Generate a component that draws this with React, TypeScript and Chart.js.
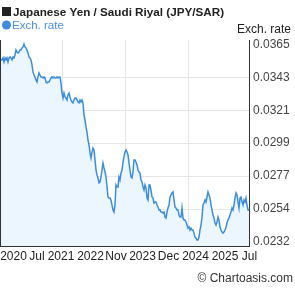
import { useEffect, useRef } from 'react';
import { Chart, registerables } from 'chart.js';

Chart.register(...registerables);

const TITLE = 'Japanese Yen / Saudi Riyal (JPY/SAR)';
const SERIES_NAME = 'Exch. rate';
const AXIS_TITLE = 'Exch. rate';
const CREDIT = '© Chartoasis.com';

// JPY/SAR exchange rate, sampled evenly from mid-2020 to mid-2025
const rates = [
  0.03549, 0.03549, 0.03562, 0.03535, 0.03562, 0.03549, 0.03562, 0.03535, 0.03562, 0.03569,
  0.03562, 0.03549, 0.03569, 0.03562, 0.03582, 0.03616, 0.03602, 0.03596, 0.03602, 0.03616,
  0.03616, 0.03629, 0.03636, 0.03656, 0.03636, 0.03629, 0.03616, 0.03596, 0.03569, 0.03562,
  0.03549, 0.03515, 0.03468, 0.03447, 0.03434, 0.03414, 0.03400, 0.03434, 0.03461, 0.03447,
  0.03434, 0.03434, 0.03427, 0.03434, 0.03427, 0.03400, 0.03394, 0.03400, 0.03400, 0.03414,
  0.03427, 0.03434, 0.03427, 0.03434, 0.03427, 0.03427, 0.03434, 0.03427, 0.03434, 0.03434,
  0.03394, 0.03326, 0.03292, 0.03326, 0.03299, 0.03292, 0.03279, 0.03313, 0.03326, 0.03299,
  0.03279, 0.03265, 0.03259, 0.03279, 0.03292, 0.03292, 0.03279, 0.03265, 0.03259, 0.03279,
  0.03265, 0.03279, 0.03259, 0.03178, 0.03144, 0.03097, 0.03063, 0.03009, 0.02976, 0.02922,
  0.02888, 0.02928, 0.02955, 0.02942, 0.02875, 0.02807, 0.02774, 0.02753, 0.02720, 0.02726,
  0.02760, 0.02807, 0.02854, 0.02821, 0.02794, 0.02760, 0.02693, 0.02625, 0.02618, 0.02618,
  0.02605, 0.02571, 0.02538, 0.02524, 0.02571, 0.02706, 0.02693, 0.02693, 0.02760, 0.02740,
  0.02787, 0.02807, 0.02861, 0.02895, 0.02928, 0.02942, 0.02928, 0.02908, 0.02854, 0.02807,
  0.02760, 0.02753, 0.02794, 0.02875, 0.02875, 0.02861, 0.02841, 0.02807, 0.02794, 0.02787,
  0.02740, 0.02726, 0.02693, 0.02672, 0.02706, 0.02686, 0.02618, 0.02605, 0.02706, 0.02706,
  0.02672, 0.02625, 0.02618, 0.02585, 0.02591, 0.02591, 0.02571, 0.02558, 0.02538, 0.02538,
  0.02524, 0.02524, 0.02517, 0.02524, 0.02490, 0.02484, 0.02524, 0.02551, 0.02571, 0.02625,
  0.02639, 0.02652, 0.02659, 0.02605, 0.02558, 0.02551, 0.02538, 0.02538, 0.02504, 0.02490,
  0.02490, 0.02551, 0.02484, 0.02470, 0.02470, 0.02457, 0.02436, 0.02416, 0.02423, 0.02403,
  0.02416, 0.02403, 0.02403, 0.02382, 0.02355, 0.02349, 0.02335, 0.02335, 0.02355, 0.02403,
  0.02436, 0.02490, 0.02571, 0.02585, 0.02605, 0.02591, 0.02625, 0.02659, 0.02639, 0.02618,
  0.02571, 0.02538, 0.02504, 0.02484, 0.02450, 0.02436, 0.02457, 0.02490, 0.02470, 0.02423,
  0.02403, 0.02389, 0.02382, 0.02389, 0.02403, 0.02423, 0.02450, 0.02470, 0.02484, 0.02504,
  0.02524, 0.02551, 0.02538, 0.02571, 0.02618, 0.02652, 0.02639, 0.02591, 0.02551, 0.02618,
  0.02625, 0.02591, 0.02571, 0.02605, 0.02591, 0.02618, 0.02571, 0.02538, 0.02538,
];

// x-axis tick labels and where they sit along the sample index
const xLabels = ['2020', 'Jul', '2021', '2022', 'Nov', '2023', 'Dec', '2024', '2025', 'Jul'];
const xLabelPos = [12.5, 36, 60, 89.5, 115, 141.5, 167.5, 194.5, 224, 248.5];
const xGridPos = [61, 124, 187];

// y-axis ticks
const yTicks = [0.02322, 0.02544, 0.02766, 0.02988, 0.0321, 0.03432, 0.03653];
const yMin = 0.02295;
const yMax = 0.03683;

const FONT = '"Liberation Sans", Arial, Helvetica, sans-serif';

const decor = {
  id: 'decor',
  afterDraw(chart: any) {
    const { ctx, chartArea: ca } = chart;
    ctx.save();
    ctx.strokeStyle = '#333';
    ctx.lineWidth = 1;
    ctx.beginPath();
    ctx.moveTo(ca.left - 0.5, ca.top);
    ctx.lineTo(ca.left - 0.5, ca.bottom + 1);
    ctx.stroke();

    ctx.textBaseline = 'alphabetic';
    ctx.textAlign = 'left';
    ctx.fillStyle = '#222';
    ctx.fillRect(2, 7, 9, 9);
    ctx.font = `bold 11.7px ${FONT}`;
    ctx.fillText(TITLE, 13, 16);

    ctx.fillStyle = '#3b8de0';
    ctx.beginPath();
    ctx.arc(6.5, 25, 4.5, 0, Math.PI * 2);
    ctx.fill();
    ctx.font = `11.5px ${FONT}`;
    ctx.fillStyle = '#4a90e2';
    ctx.fillText(SERIES_NAME, 12, 29);

    ctx.font = `12px ${FONT}`;
    ctx.textAlign = 'right';
    ctx.fillStyle = '#222';
    ctx.fillText(AXIS_TITLE, 291, 33);
    ctx.fillStyle = '#333';
    ctx.fillText(CREDIT, 293, 282);
    ctx.restore();
  },
};

export default function App() {
  const ref = useRef<HTMLCanvasElement>(null);
  useEffect(() => {
    document.body.style.margin = '0';
    const canvas = ref.current;
    if (!canvas) return;
    Chart.defaults.font.family = FONT;
    const chart = new Chart(canvas, {
      type: 'line',
      data: {
        datasets: [
          {
            label: SERIES_NAME,
            data: rates.map((v, i) => ({ x: i, y: v })),
            borderColor: '#3a8ee2',
            borderWidth: 1.5,
            backgroundColor: '#ecf6fe',
            fill: 'start',
            pointRadius: 0,
            tension: 0,
          },
        ],
      },
      options: {
        animation: false,
        responsive: false,
        maintainAspectRatio: false,
        layout: { padding: { top: 40, left: 1, right: 0, bottom: 0 } },
        plugins: { legend: { display: false }, tooltip: { enabled: false }, title: { display: false } },
        scales: {
          x: {
            type: 'linear',
            position: 'bottom',
            min: 0,
            max: rates.length - 1,
            grid: { display: false, drawTicks: false },
            border: { display: true, color: '#333', width: 1 },
            afterBuildTicks: (s: any) => {
              s.ticks = xLabelPos.map((v) => ({ value: v }));
            },
            afterFit: (s: any) => {
              s.height = 42;
              s.paddingLeft = 0;
              s.paddingRight = 0;
            },
            ticks: {
              autoSkip: false,
              maxRotation: 0,
              padding: 3,
              color: '#222',
              font: { size: 12, family: FONT },
              callback: (_v: any, i: number) => xLabels[i],
            },
          },
          xg: {
            type: 'linear',
            position: 'bottom',
            min: 0,
            max: rates.length - 1,
            grid: { display: true, drawTicks: false, color: '#e6e6e6', lineWidth: 1 },
            border: { display: false },
            afterBuildTicks: (s: any) => {
              s.ticks = xGridPos.map((v) => ({ value: v }));
            },
            afterFit: (s: any) => {
              s.height = 0;
              s.paddingLeft = 0;
              s.paddingRight = 0;
            },
            ticks: { display: false },
          },
          y: {
            type: 'linear',
            position: 'right',
            min: yMin,
            max: yMax,
            grid: {
              drawTicks: false,
              color: (c: any) => (c.index === 0 || c.index === yTicks.length - 1 ? 'rgba(0,0,0,0)' : '#e6e6e6'),
            },
            border: { display: true, color: '#333', width: 1 },
            afterBuildTicks: (s: any) => {
              s.ticks = yTicks.map((v) => ({ value: v }));
            },
            afterFit: (s: any) => {
              s.width = 46;
              s.paddingTop = 0;
              s.paddingBottom = 0;
            },
            ticks: {
              padding: 4,
              color: '#444',
              font: { size: 12, family: FONT },
              callback: (v: any) => Number(v).toFixed(4),
            },
          },
        },
      },
      plugins: [decor],
    });
    return () => chart.destroy();
  }, []);
  return <canvas ref={ref} width={295} height={288} style={{ display: 'block' }} />;
}
